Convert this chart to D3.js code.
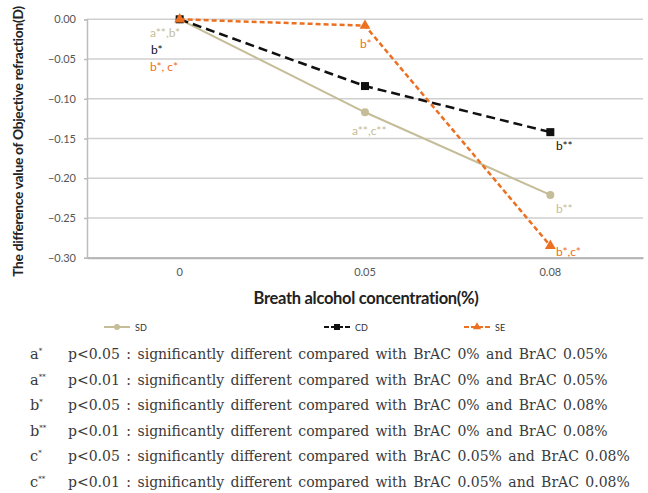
<!DOCTYPE html>
<html>
<head>
<meta charset="utf-8">
<script src="https://cdn.jsdelivr.net/npm/d3@7/dist/d3.min.js"></script>
<style>
  body { margin: 0; background: #fff; }
  svg { display: block; }
</style>
</head>
<body>
<svg id="chart" width="648" height="493"></svg>
<script>
// Data
const categories = ["0", "0.05", "0.08"];
const sdValues = [0, -0.117, -0.221];
const cdValues = [0, -0.084, -0.142];
const seValues = [0, -0.008, -0.285];
const yTicks = [0, -0.05, -0.10, -0.15, -0.20, -0.25, -0.30];

// significance labels per point
const sdNotes = ["a**,b*", "a**,c**", "b**"];
const cdNotes = ["b*", "", "b**"];
const seNotes = ["b*, c*", "b*", "b*,c*"];

const footLetters = ["a", "a", "b", "b", "c", "c"];
const footStars = ["*", "**", "*", "**", "*", "**"];
const footTexts = [
  "p<0.05 : significantly different compared with BrAC 0% and BrAC 0.05%",
  "p<0.01 : significantly different compared with BrAC 0% and BrAC 0.05%",
  "p<0.05 : significantly different compared with BrAC 0% and BrAC 0.08%",
  "p<0.01 : significantly different compared with BrAC 0% and BrAC 0.08%",
  "p<0.05 : significantly different compared with BrAC 0.05% and BrAC 0.08%",
  "p<0.01 : significantly different compared with BrAC 0.05% and BrAC 0.08%"
];

const series = [
  { name: "SD", values: sdValues, notes: sdNotes, color: "#c5bd98", dash: null, width: 2, marker: "circle" },
  { name: "CD", values: cdValues, notes: cdNotes, color: "#111111", dash: "9,5", width: 2.5, marker: "square" },
  { name: "SE", values: seValues, notes: seNotes, color: "#ec7022", dash: "5,3", width: 2.5, marker: "triangle" }
];

const svg = d3.select("#chart");
const font = "Lato, 'Open Sans', sans-serif";

const plot = { left: 87, right: 643, top: 19.3, bottom: 257.7 };

const x = d3.scaleBand().domain(categories).range([plot.left, plot.right]);
const y = d3.scaleLinear().domain([-0.30, 0]).range([plot.bottom, plot.top]);
const cx = c => x(c) + x.bandwidth() / 2;

// gridlines
svg.append("g").selectAll("line").data(yTicks).enter().append("line")
  .attr("x1", plot.left).attr("x2", plot.right)
  .attr("y1", d => y(d)).attr("y2", d => y(d))
  .attr("stroke", "#cfcfcf").attr("stroke-width", 1.5);

// y axis
const yAxis = svg.append("g")
  .attr("transform", `translate(${plot.left},0)`)
  .call(d3.axisLeft(y).tickValues(yTicks).tickFormat(d3.format(".2f")).tickSize(3).tickPadding(8));
yAxis.select(".domain").attr("stroke", "#bdbdbd").attr("stroke-width", 1.5);
yAxis.selectAll(".tick line").attr("stroke", "#bdbdbd").attr("stroke-width", 1.5);
yAxis.selectAll("text").attr("font-family", font).attr("font-size", 11).attr("fill", "#555");

// x axis
const xAxis = svg.append("g")
  .attr("transform", `translate(0,${plot.bottom})`)
  .call(d3.axisBottom(x).tickSize(0).tickPadding(11));
xAxis.select(".domain").attr("stroke", "#b5b5b5").attr("stroke-width", 2);
xAxis.selectAll("text").attr("font-family", font).attr("font-size", 11).attr("fill", "#555");

// axis titles
svg.append("text")
  .attr("transform", `translate(23,${(plot.top + plot.bottom) / 2 + 3}) rotate(-90)`)
  .attr("text-anchor", "middle")
  .attr("font-family", font).attr("font-weight", "bold").attr("font-size", 13.8)
  .attr("fill", "#222")
  .attr("letter-spacing", -0.3)
  .text("The difference value of Objective refraction(D)");

svg.append("text")
  .attr("x", 366).attr("y", 304)
  .attr("text-anchor", "middle")
  .attr("font-family", font).attr("font-weight", "bold").attr("font-size", 16.5)
  .attr("fill", "#222")
  .attr("letter-spacing", -0.3)
  .text("Breath alcohol concentration(%)");

// lines
const line = d3.line().x((d, i) => cx(categories[i])).y(d => y(d));

function drawMarker(g, type, color, px, py, s) {
  if (type === "circle") {
    g.append("circle").attr("cx", px).attr("cy", py).attr("r", s).attr("fill", color);
  } else if (type === "square") {
    g.append("rect").attr("x", px - s).attr("y", py - s).attr("width", 2 * s).attr("height", 2 * s).attr("fill", color);
  } else {
    g.append("path")
      .attr("d", d3.symbol(d3.symbolTriangle, s * s * 3.2)())
      .attr("transform", `translate(${px},${py})`)
      .attr("fill", color);
  }
}

series.forEach(s => {
  svg.append("path")
    .datum(s.values)
    .attr("d", line)
    .attr("fill", "none")
    .attr("stroke", s.color)
    .attr("stroke-width", s.width)
    .attr("stroke-dasharray", s.dash);
  const mg = svg.append("g");
  s.values.forEach((v, i) => drawMarker(mg, s.marker, s.color, cx(categories[i]), y(v), 4));
});

// point annotations
const notePos = {
  SD: [[150, 37], [352, 135], [556, 213]],
  CD: [[151, 54], [0, 0], [556, 150]],
  SE: [[150, 71], [360, 48], [556, 256]]
};
series.forEach(s => {
  s.notes.forEach((n, i) => {
    if (!n) return;
    const p = notePos[s.name][i];
    svg.append("text")
      .attr("x", p[0]).attr("y", p[1])
      .attr("font-family", font).attr("font-size", 12)
      .attr("fill", s.color)
      .text(n);
  });
});

// legend
const legendX = [104, 324, 464];
series.forEach((s, i) => {
  const lx = legendX[i], ly = 327;
  svg.append("line")
    .attr("x1", lx).attr("x2", lx + 26).attr("y1", ly).attr("y2", ly)
    .attr("stroke", s.color).attr("stroke-width", 2)
    .attr("stroke-dasharray", s.dash ? "5,2" : null);
  drawMarker(svg, s.marker, s.color, lx + 13, ly, 3);
  svg.append("text")
    .attr("x", lx + 31).attr("y", ly + 3.5)
    .attr("font-family", font).attr("font-size", 9)
    .attr("fill", "#333")
    .text(s.name);
});

// footnotes
const foot = svg.append("g").attr("font-family", "'DejaVu Serif', 'Liberation Serif', serif").attr("fill", "#3a3a3a");
footTexts.forEach((t, i) => {
  const fy = 359 + i * 25.6;
  const lt = foot.append("text").attr("x", 30).attr("y", fy).attr("font-size", 14.5);
  lt.append("tspan").text(footLetters[i]);
  lt.append("tspan").attr("dy", -6).attr("font-size", 7).text(footStars[i]);
  foot.append("text")
    .attr("x", 68).attr("y", fy)
    .attr("font-size", 14)
    .attr("word-spacing", 2)
    .text(t);
});
</script>
</body>
</html>
